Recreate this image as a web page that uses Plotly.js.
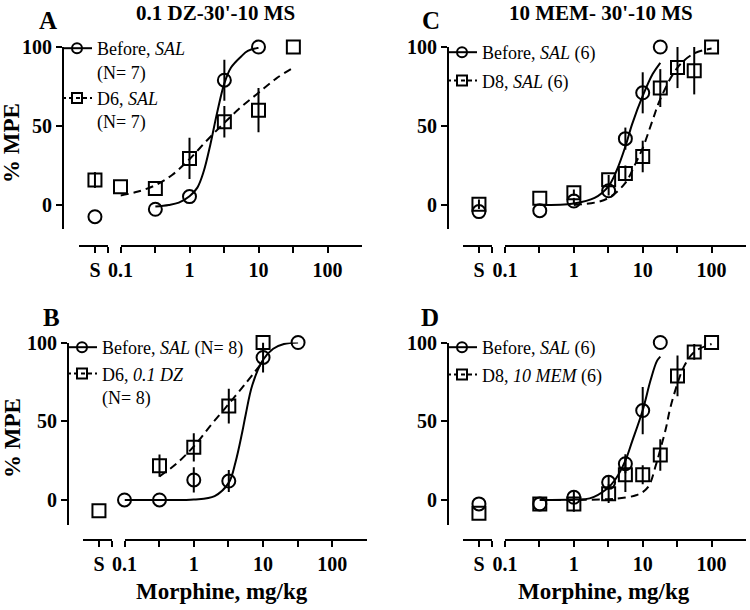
<!DOCTYPE html>
<html>
<head>
<meta charset="utf-8">
<script src="https://cdn.plot.ly/plotly-3.0.1.min.js"></script>
<style>
body { margin: 0; background: #fff; }
#graph { width: 750px; height: 610px; }
</style>
</head>
<body>
<div id="graph"></div>
<script>
/*
* tick values shared by every panel
*/
var doseTicks = [0.1, 0.316, 1, 3.16, 10, 31.6, 100];
var doseTickText = ["0.1", "", "1", "", "10", "", "100"];
var mpeTicks = [0, 50, 100];
var salineTick = ["S"];

/*
* Panel A : 0.1 DZ-30'-10 MS, Before SAL vs D6 SAL
*/
var aBeforeSal = [-7.4];
var aBeforeDose = [0.32, 1, 3.2, 10];
var aBeforeMpe = [-2.7, 5.3, 79, 100];
var aBeforeErr = [0, 0, 13, 0];
var aD6Sal = [15.8];
var aD6SalErr = [5];
var aD6Dose = [0.1, 0.32, 1, 3.2, 10, 32];
var aD6Mpe = [11.6, 10.5, 29.5, 52.7, 60, 100];
var aD6Err = [0, 0, 13, 10, 14, 0];
var aBeforeFitDose = [0.32, 0.5, 0.7, 1, 1.3, 1.6, 2, 2.5, 3.2, 4, 5.6, 7, 10];
var aBeforeFit = [-1, 0, 1.5, 5.5, 11, 21, 38, 58, 77, 87, 94, 97.5, 99.5];
var aD6FitDose = [0.1, 0.18, 0.32, 0.56, 1, 1.8, 3.2, 5.6, 10, 18, 32];
var aD6Fit = [6, 8.5, 12.5, 19, 29, 41, 52, 62, 71, 80, 87];

/*
* Panel B : Before SAL vs D6 0.1 DZ
*/
var bBeforeSal = [];
var bBeforeDose = [0.1, 0.32, 1, 3.2, 10, 32];
var bBeforeMpe = [0, 0, 12.7, 12, 90.5, 100];
var bBeforeErr = [0, 0, 8, 7, 9.5, 0];
var bD6Sal = [-6.8];
var bD6SalErr = [0];
var bD6Dose = [0.32, 1, 3.2, 10];
var bD6Mpe = [21.8, 33.4, 59.6, 100];
var bD6Err = [7, 9, 11, 0];
var bBeforeFitDose = [0.1, 0.32, 1, 2, 3.2, 4, 5, 5.6, 7, 10, 14, 20, 32];
var bBeforeFit = [0, 0, 0.3, 2.5, 11, 24, 43, 54, 73, 89, 96, 99, 100];
var bD6FitDose = [0.32, 0.56, 1, 1.8, 3.2, 5.6, 10];
var bD6Fit = [15, 23, 34, 48, 61, 74, 88];

/*
* Panel C : 10 MEM- 30'-10 MS, Before SAL vs D8 SAL
*/
var cBeforeSal = [-4.2];
var cBeforeDose = [0.32, 1, 3.2, 5.6, 10, 18];
var cBeforeMpe = [-3.6, 2.5, 9, 42, 71, 100];
var cBeforeErr = [0, 2, 3, 7, 13, 0];
var cD8Sal = [0.5];
var cD8SalErr = [3];
var cD8Dose = [0.32, 1, 3.2, 5.6, 10, 18, 32, 56, 100];
var cD8Mpe = [4.2, 7.8, 16, 20, 30.7, 74, 87, 85, 100];
var cD8Err = [0, 2, 3, 5, 10, 12, 13, 15, 0];
var cBeforeFitDose = [0.32, 1, 2, 3.2, 4.2, 5.6, 7, 10, 14, 18];
var cBeforeFit = [0, 1, 4.5, 12, 22, 37, 51, 69, 83, 90];
var cD8FitDose = [1, 2, 3.2, 5.6, 8, 10, 14, 18, 32, 56, 100];
var cD8Fit = [0, 1.5, 4.5, 14, 27, 36, 54, 67, 87, 96, 99];

/*
* Panel D : Before SAL vs D8 10 MEM
*/
var dBeforeSal = [-2.5];
var dBeforeDose = [0.32, 1, 3.2, 5.6, 10, 18];
var dBeforeMpe = [-2.5, 1.7, 11.2, 23, 56.8, 100];
var dBeforeErr = [0, 4, 4, 6, 15, 0];
var dD8Sal = [-8.5];
var dD8SalErr = [0];
var dD8Dose = [0.32, 1, 3.2, 5.6, 10, 18, 32, 56, 100];
var dD8Mpe = [-2.5, -2.5, 4, 16, 16, 28.6, 78.8, 94, 100];
var dD8Err = [0, 5, 6, 11, 6, 10, 13, 5, 0];
var dBeforeFitDose = [0.32, 1, 1.7, 3, 4, 5.6, 7, 10, 13, 16, 18];
var dBeforeFit = [0, 0.3, 1, 7, 13, 25, 37, 57, 76, 88, 91];
var dD8FitDose = [0.32, 1, 3.2, 5.6, 8, 10, 12.3, 15.5, 18, 21.6, 25, 32, 40, 56, 100];
var dD8Fit = [0, 0, 0.5, 1.5, 3, 5, 9, 22, 32, 45, 58, 74, 85, 94, 99];

/*
* legend texts and labels
*/
var legendNames = [
    ["Before, <i>SAL</i><br>(N= 7)", "D6, <i>SAL</i><br>(N= 7)"],
    ["Before, <i>SAL</i> (N= 8)", "D6, <i>0.1 DZ</i><br>(N= 8)"],
    ["Before, <i>SAL</i> (6)", "D8, <i>SAL</i> (6)"],
    ["Before, <i>SAL</i> (6)", "D8, <i>10 MEM</i> (6)"]
];
var panelLetters = ["A", "B", "C", "D"];
var panelTitles = ["0.1 DZ-30'-10 MS", "10 MEM- 30'-10 MS"];

var W = 750, H = 610;
var FONT = "Liberation Serif, Times New Roman, serif";

function px(x) { return x / W; }
function py(y) { return 1 - y / H; }

/*
* where each panel sits on the page (pixels)
*/
var panels = [
    {sx: "x", lx: "x2", y: "y", yAxisX: 63, yTop: 47, yBot: 229, yMin: -15.2,
     sL: 79, sR: 108, lL: 120.5, lR: 362, lineY: 246, legX: 57, legY: 30, legGap: 0},
    {sx: "x3", lx: "x4", y: "y2", yAxisX: 68, yTop: 342.5, yBot: 525, yMin: -15.9,
     sL: 83, sR: 112, lL: 124.5, lR: 367, lineY: 540, legX: 62, legY: 329, legGap: 0},
    {sx: "x5", lx: "x6", y: "y3", yAxisX: 448, yTop: 47, yBot: 229, yMin: -15.2,
     sL: 463, sR: 492, lL: 505, lR: 746, lineY: 246, legX: 442, legY: 34, legGap: 2},
    {sx: "x7", lx: "x8", y: "y4", yAxisX: 448, yTop: 342.5, yBot: 525, yMin: -15.9,
     sL: 463, sR: 492, lL: 505, lR: 746, lineY: 540, legX: 442, legY: 329, legGap: 1}
];

var panelData = [
    {c: [aBeforeSal, aBeforeDose, aBeforeMpe, aBeforeErr, aBeforeFitDose, aBeforeFit],
     s: [aD6Sal, aD6SalErr, aD6Dose, aD6Mpe, aD6Err, aD6FitDose, aD6Fit]},
    {c: [bBeforeSal, bBeforeDose, bBeforeMpe, bBeforeErr, bBeforeFitDose, bBeforeFit],
     s: [bD6Sal, bD6SalErr, bD6Dose, bD6Mpe, bD6Err, bD6FitDose, bD6Fit]},
    {c: [cBeforeSal, cBeforeDose, cBeforeMpe, cBeforeErr, cBeforeFitDose, cBeforeFit],
     s: [cD8Sal, cD8SalErr, cD8Dose, cD8Mpe, cD8Err, cD8FitDose, cD8Fit]},
    {c: [dBeforeSal, dBeforeDose, dBeforeMpe, dBeforeErr, dBeforeFitDose, dBeforeFit],
     s: [dD8Sal, dD8SalErr, dD8Dose, dD8Mpe, dD8Err, dD8FitDose, dD8Fit]}
];

function points(xa, ya, x, y, err, symbol) {
    return {
        x: x, y: y, xaxis: xa, yaxis: ya,
        type: "scatter", mode: "markers", showlegend: false, cliponaxis: false,
        marker: {symbol: symbol, size: 13, color: "rgba(0,0,0,0)", line: {color: "#000", width: 2}},
        error_y: {type: "data", array: err, visible: true, color: "#000", thickness: 2, width: 0}
    };
}

function curve(xa, ya, x, y, dash) {
    return {
        x: x, y: y, xaxis: xa, yaxis: ya,
        type: "scatter", mode: "lines", showlegend: false, hoverinfo: "skip",
        line: {color: "#000", width: 2, dash: dash, shape: "spline", smoothing: 1}
    };
}

function legendItem(xa, ya, name, symbol, dash, legend, group) {
    return {
        x: [null], y: [null], xaxis: xa, yaxis: ya, name: name, legend: legend, legendgroup: group,
        type: "scatter", mode: "lines+markers",
        line: {color: "#000", width: 2, dash: dash},
        marker: {symbol: symbol, size: 10, color: "rgba(0,0,0,0)", line: {color: "#000", width: 2}}
    };
}

function drawGraph() {
    var data = [], layout, annotations = [];
    var legendIds = ["legend", "legend2", "legend3", "legend4"];

    layout = {
        width: W, height: H,
        margin: {l: 0, r: 0, t: 0, b: 0},
        paper_bgcolor: "#fff", plot_bgcolor: "rgba(0,0,0,0)",
        font: {family: FONT, color: "#000"},
        hovermode: false
    };

    panels.forEach(function (p, i) {
        var d = panelData[i];
        var legendId = legendIds[i];
        var axisStyle = {
            showline: true, linecolor: "#000", linewidth: 2,
            ticks: "outside", ticklen: 6, tickwidth: 2, tickcolor: "#000",
            showgrid: false, zeroline: false, fixedrange: true,
            tickfont: {family: FONT, size: 20, weight: "bold", color: "#000"},
            anchor: "free"
        };

        /* saline segment of the broken x axis */
        layout[p.sx.replace("x", "xaxis")] = Object.assign({}, axisStyle, {
            domain: [px(p.sL), px(p.sR)], range: [-1.1, 0.9],
            tickvals: [0, 0.9], ticktext: salineTick.concat([""]),
            position: py(p.lineY)
        });
        /* log dose segment */
        layout[p.lx.replace("x", "xaxis")] = Object.assign({}, axisStyle, {
            type: "log", domain: [px(p.lL), px(p.lR)], range: [-1, 2.5],
            tickvals: doseTicks, ticktext: doseTickText,
            position: py(p.lineY)
        });
        layout[p.y.replace("y", "yaxis")] = Object.assign({}, axisStyle, {
            domain: [py(p.yBot), py(p.yTop)], range: [p.yMin, 100],
            tickvals: mpeTicks, position: px(p.yAxisX)
        });

        /* fitted curves */
        data.push(curve(p.lx, p.y, d.c[4], d.c[5], "solid"));
        data.push(curve(p.lx, p.y, d.s[5], d.s[6], "8px,5px"));

        /* measured points */
        data.push(points(p.sx, p.y, d.c[0].map(function () { return 0; }), d.c[0], [0], "circle"));
        data.push(points(p.lx, p.y, d.c[1], d.c[2], d.c[3], "circle"));
        data.push(points(p.sx, p.y, d.s[0].map(function () { return 0; }), d.s[0], d.s[1], "square"));
        data.push(points(p.lx, p.y, d.s[2], d.s[3], d.s[4], "square"));

        /* legend rows */
        data.push(legendItem(p.lx, p.y, legendNames[i][0], "circle", "solid", legendId, "g" + i + "a"));
        data.push(legendItem(p.lx, p.y, legendNames[i][1], "square", "4px,3px", legendId, "g" + i + "b"));

        layout[legendId] = {
            x: px(p.legX), y: py(p.legY), xanchor: "left", yanchor: "top",
            bgcolor: "rgba(0,0,0,0)", borderwidth: 0,
            font: {family: FONT, size: 18, color: "#000"},
            valign: "top", itemwidth: 30, tracegroupgap: p.legGap,
            itemclick: false, itemdoubleclick: false
        };
    });

    /* panel letters, titles and axis titles */
    var letterPos = [[48, 20], [51, 317], [431, 20], [430, 317]];
    panelLetters.forEach(function (t, i) {
        annotations.push({text: "<b>" + t + "</b>", x: px(letterPos[i][0]), y: py(letterPos[i][1]),
            xref: "paper", yref: "paper", showarrow: false, xanchor: "center", yanchor: "middle",
            font: {family: FONT, size: 25, color: "#000"}});
    });
    var titlePos = [[216, 13], [601, 13]];
    panelTitles.forEach(function (t, i) {
        annotations.push({text: "<b>" + t + "</b>", x: px(titlePos[i][0]), y: py(titlePos[i][1]),
            xref: "paper", yref: "paper", showarrow: false, xanchor: "center", yanchor: "middle",
            font: {family: FONT, size: 21, color: "#000"}});
    });
    [[12, 143], [12, 438]].forEach(function (pos) {
        annotations.push({text: "<b>% MPE</b>", x: px(pos[0]), y: py(pos[1]), textangle: -90,
            xref: "paper", yref: "paper", showarrow: false, xanchor: "center", yanchor: "middle",
            font: {family: FONT, size: 23, color: "#000"}});
    });
    [[222, 591], [604, 591]].forEach(function (pos) {
        annotations.push({text: "<b>Morphine, mg/kg</b>", x: px(pos[0]), y: py(pos[1]),
            xref: "paper", yref: "paper", showarrow: false, xanchor: "center", yanchor: "middle",
            font: {family: FONT, size: 23, color: "#000"}});
    });
    layout.annotations = annotations;

    Plotly.newPlot("graph", data, layout, {staticPlot: true});
}

drawGraph();
</script>
</body>
</html>
